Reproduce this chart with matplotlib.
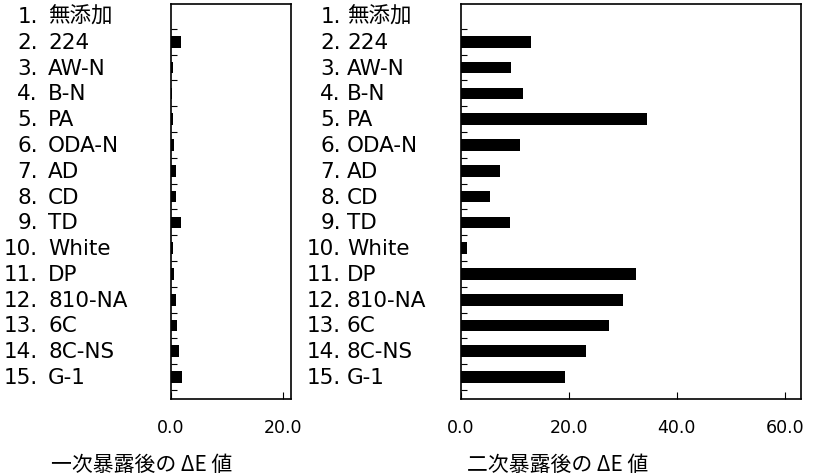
import matplotlib
matplotlib.use("Agg")
import matplotlib.pyplot as plt
import matplotlib.transforms as mtransforms
import numpy as np

categories = ["1. 無添加", "2. 224", "3. AW-N", "4. B-N", "5. PA", "6. ODA-N", "7. AD",
              "8. CD", "9. TD", "10. White", "11. DP", "12. 810-NA", "13. 6C",
              "14. 8C-NS", "15. G-1"]
first_exposure = [0.0, 1.8, 0.3, 0.2, 0.3, 0.5, 0.9, 0.9, 1.7, 0.4, 0.6, 0.9, 1.1, 1.4, 1.9]
second_exposure = [0.0, 13.0, 9.2, 11.4, 34.4, 11.0, 7.2, 5.3, 9.1, 1.1, 32.5, 30.1, 27.5, 23.1, 19.3]
left_ticks = [0, 20]
right_ticks = [0, 20, 40, 60]
left_xlabel = "一次暴露後の ΔE 値"
right_xlabel = "二次暴露後の ΔE 値"

plt.rcParams['font.family'] = ['DejaVu Sans', 'Noto Sans CJK JP']

W, H = 819, 477
fig = plt.figure(figsize=(W / 100, H / 100), dpi=100)

def fx(px):
    return px / W

def fy(py):
    return 1 - py / H

top_px, bot_px = 5, 400
ax1 = fig.add_axes([fx(171), fy(bot_px), fx(291 - 171), (bot_px - top_px) / H])
ax2 = fig.add_axes([fx(461), fy(bot_px), fx(801 - 461), (bot_px - top_px) / H])

y = np.arange(len(categories))
panels = [(ax1, first_exposure, left_ticks, 21.4, left_xlabel, 142, 38, 48),
          (ax2, second_exposure, right_ticks, 63.0, right_xlabel, 558, 341, 347)]

for ax, vals, ticks, xmax, xlabel, xl_px, num_px, name_px in panels:
    ax.barh(y, vals, height=0.45, color='black', edgecolor='black', linewidth=0)
    ax.set_xlim(0, xmax)
    ax.set_ylim(14.85, -0.465)
    ax.set_yticks(y + 0.5)
    ax.set_yticklabels([])
    ax.tick_params(axis='y', direction='in', length=4, width=0.8, left=True, right=False)
    ax.set_xticks(ticks)
    ax.set_xticklabels([f"{t:.1f}" for t in ticks], fontsize=12.5)
    ax.tick_params(axis='x', direction='in', length=5, width=0.8, pad=14)
    for s in ax.spines.values():
        s.set_linewidth(1.2)
    trans = mtransforms.blended_transform_factory(fig.transFigure, ax.transData)
    for yi, lab in zip(y, categories):
        num, name = lab.split(". ", 1)
        ax.text(fx(num_px), yi, num + ".", transform=trans, ha='right', va='center',
                fontsize=15.5, clip_on=False)
        ax.text(fx(name_px), yi, name, transform=trans, ha='left', va='center',
                fontsize=15.5, clip_on=False)
    fig.text(fx(xl_px), fy(465), xlabel, ha='center', va='center', fontsize=15,
             family=['Noto Sans CJK JP', 'DejaVu Sans'])

fig.savefig("out.png", dpi=100)
